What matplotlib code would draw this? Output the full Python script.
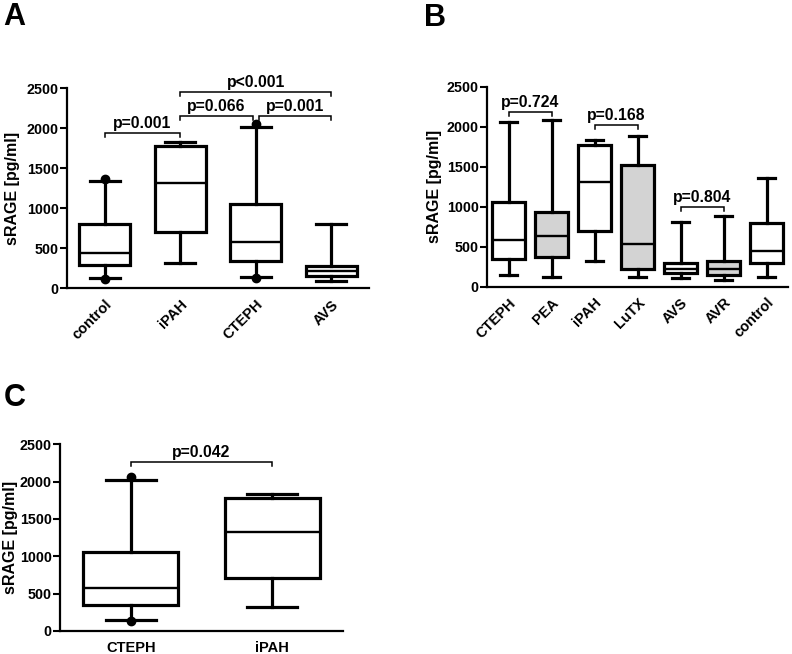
import matplotlib
matplotlib.use("Agg")
import matplotlib.pyplot as plt
from matplotlib.transforms import offset_copy

plt.rcParams['font.family'] = ['Liberation Sans', 'DejaVu Sans']
plt.rcParams['font.weight'] = 'bold'

# ---------------- data ----------------
# Panel A
a_labels = ["control", "iPAH", "CTEPH", "AVS"]
a_whislo = [125, 320, 141, 96]
a_q1 = [291, 700, 341, 158]
a_med = [445, 1316, 575, 220]
a_q3 = [804, 1783, 1054, 283]
a_whishi = [1341, 1833, 2020, 804]
a_fliers = [[112, 1362], [], [133, 2054], []]
a_fill = ["white", "white", "white", "white"]
# brackets: (left pos, right pos, height, text)
a_brackets_l = [1.0, 2.0, 3.04, 2.0]
a_brackets_r = [2.0, 2.96, 4.0, 4.0]
a_brackets_y = [1946, 2157, 2157, 2450]
a_brackets_t = ["p=0.001", "p=0.066", "p=0.001", "p<0.001"]

# Panel B
b_labels = ["CTEPH", "PEA", "iPAH", "LuTX", "AVS", "AVR", "control"]
b_whislo = [142, 125, 325, 125, 104, 83, 125]
b_q1 = [346, 375, 700, 217, 167, 146, 300]
b_med = [583, 638, 1313, 529, 220, 221, 446]
b_q3 = [1054, 938, 1775, 1525, 292, 325, 800]
b_whishi = [2054, 2083, 1833, 1879, 804, 879, 1354]
b_fliers = [[], [], [], [], [], [], []]
b_fill = ["white", "#d3d3d3", "white", "#d3d3d3", "white", "#d3d3d3", "white"]
b_brackets_l = [1.0, 3.0, 5.0]
b_brackets_r = [2.0, 4.0, 6.0]
b_brackets_y = [2187, 2017, 1000]
b_brackets_t = ["p=0.724", "p=0.168", "p=0.804"]

# Panel C
c_labels = ["CTEPH", "iPAH"]
c_whislo = [143, 326]
c_q1 = [348, 710]
c_med = [580, 1321]
c_q3 = [1062, 1777]
c_whishi = [2022, 1839]
c_fliers = [[134, 2058], []]
c_fill = ["white", "white"]
c_brackets_l = [1.0]
c_brackets_r = [2.0]
c_brackets_y = [2259]
c_brackets_t = ["p=0.042"]

W, H = 792, 654
fig = plt.figure(figsize=(W / 100, H / 100), dpi=100)


def px_axes(l, r, t, b):
    return fig.add_axes([l / W, 1 - b / H, (r - l) / W, (b - t) / H])


def draw_panel(ax, labels, lo, q1, med, q3, hi, fliers, fills, width, capw,
               bl, br, by, bt, drop, rotate, ylab_x):
    stats = []
    for i in range(len(labels)):
        stats.append(dict(whislo=lo[i], q1=q1[i], med=med[i], q3=q3[i],
                          whishi=hi[i], fliers=fliers[i], label=labels[i]))
    pos = list(range(1, len(labels) + 1))
    res = ax.bxp(stats, positions=pos, widths=width, capwidths=capw,
                 patch_artist=True, showfliers=True,
                 boxprops=dict(linewidth=2.3, edgecolor='black'),
                 medianprops=dict(linewidth=1.7, color='black'),
                 whiskerprops=dict(linewidth=2.3, color='black'),
                 capprops=dict(linewidth=2.3, color='black'),
                 flierprops=dict(marker='o', markerfacecolor='black',
                                 markeredgecolor='black', markersize=6))
    for patch, c in zip(res['boxes'], fills):
        patch.set_facecolor(c)
    ax.set_xlim(0.5, len(labels) + 0.5)
    ax.set_ylim(0, 2500)
    ax.set_yticks([0, 500, 1000, 1500, 2000, 2500])
    for s in ['top', 'right']:
        ax.spines[s].set_visible(False)
    for s in ['left', 'bottom']:
        ax.spines[s].set_linewidth(1.6)
    ax.tick_params(axis='y', direction='out', length=5, width=1.5,
                   labelsize=10.3, pad=1)
    ax.tick_params(axis='x', length=0, labelsize=10.5)
    for t in ax.get_yticklabels():
        t.set_fontweight('bold')
    if rotate:
        ax.set_xticklabels(labels, rotation=45, ha='right', va='center',
                           rotation_mode='anchor', fontweight='bold')
        ax.tick_params(axis='x', pad=10)
        for t in ax.get_xticklabels():
            t.set_transform(offset_copy(t.get_transform(), fig=fig, x=5, y=0,
                                        units='dots'))
    else:
        ax.set_xticklabels(labels, fontweight='bold')
        ax.tick_params(axis='x', pad=7)
    ax.set_ylabel("sRAGE [pg/ml]", fontsize=11.5, fontweight='bold')
    ax.yaxis.set_label_coords(ylab_x, 0.5)
    for l, r, y, t in zip(bl, br, by, bt):
        ax.plot([l, l, r, r], [y - drop, y, y, y - drop], color='black',
                lw=1.1, clip_on=False, solid_joinstyle='miter')
        ax.annotate(t, xy=((l + r) / 2, y), xytext=(0, 3.5),
                    textcoords='offset points', ha='center', va='baseline',
                    fontsize=11.3, fontweight='bold', annotation_clip=False)


axA = px_axes(67, 369, 88.3, 288.3)
draw_panel(axA, a_labels, a_whislo, a_q1, a_med, a_q3, a_whishi, a_fliers,
           a_fill, 0.67, 0.4, a_brackets_l, a_brackets_r, a_brackets_y,
           a_brackets_t, 50, True, -0.156)

axB = px_axes(487, 788, 86.7, 286.7)
draw_panel(axB, b_labels, b_whislo, b_q1, b_med, b_q3, b_whishi, b_fliers,
           b_fill, 0.76, 0.4, b_brackets_l, b_brackets_r, b_brackets_y,
           b_brackets_t, 50, True, -0.15)

axC = px_axes(60, 343, 444.3, 631)
draw_panel(axC, c_labels, c_whislo, c_q1, c_med, c_q3, c_whishi, c_fliers,
           c_fill, 0.67, 0.35, c_brackets_l, c_brackets_r, c_brackets_y,
           c_brackets_t, 55, False, -0.148)

fig.text(3 / W, 1 - 2 / H, "A", fontsize=22, fontweight='bold', ha='left', va='top')
fig.text(424 / W, 1 - 3 / H, "B", fontsize=22, fontweight='bold', ha='left', va='top')
fig.text(4 / W, 1 - 383 / H, "C", fontsize=22, fontweight='bold', ha='left', va='top')

fig.savefig("out.png", dpi=100)
